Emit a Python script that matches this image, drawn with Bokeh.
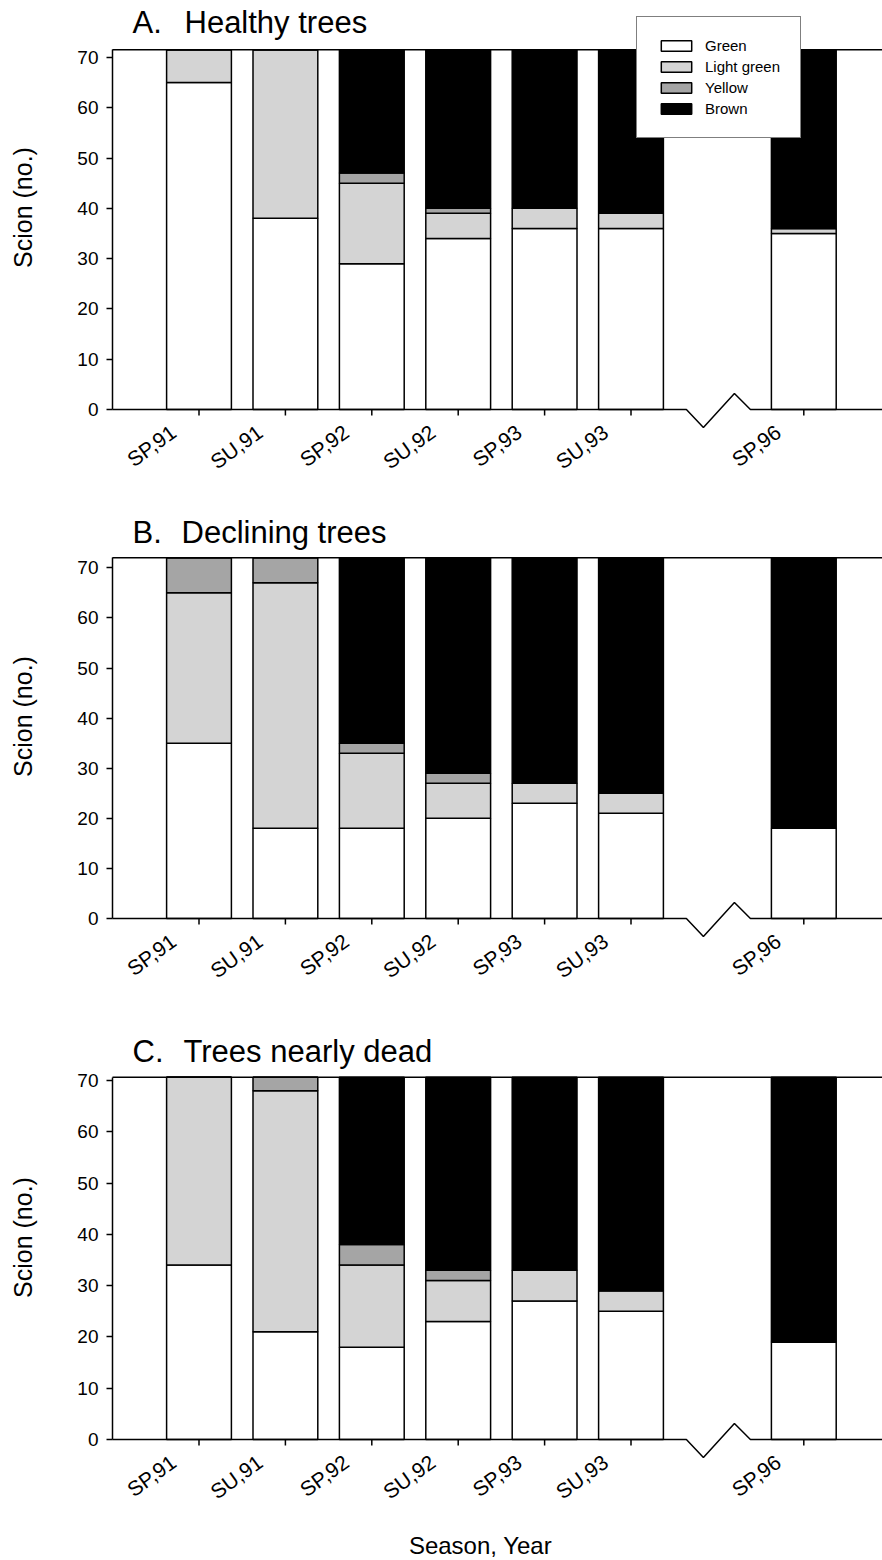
import math
from bokeh.plotting import figure
from bokeh.layouts import column
from bokeh.models import FixedTicker, Legend, LegendItem, ColumnDataSource
from bokeh.embed import file_html
from bokeh.resources import INLINE
from bokeh.core.properties import value

# ---------------- data ----------------
seasons = ["SP,91", "SU,91", "SP,92", "SU,92", "SP,93", "SU,93", "SP,96"]
# position on the time axis (the empty slot 6 is the axis break 1994-95)
slots = [0, 1, 2, 3, 4, 5, 7]
break_slot = 6
layers = ["Green", "Light green", "Yellow", "Brown"]
layer_colors = ["#ffffff", "#d4d4d4", "#a5a5a5", "#000000"]
y_ticks = [0, 10, 20, 30, 40, 50, 60, 70]

panel_letters = ["A.", "B.", "C."]
panel_names = ["Healthy trees", "Declining trees", "Trees nearly dead"]
x_title = "Season, Year"
y_title = "Scion (no.)"

# A. Healthy trees
a_green = [65, 38, 29, 34, 36, 36, 35]
a_light = [6.5, 33.5, 16, 5, 4, 3, 1]
a_yellow = [0, 0, 2, 1, 0, 0, 0]
a_brown = [0, 0, 24.5, 31.5, 31.5, 32.5, 35.5]
a_total = 71.5

# B. Declining trees
b_green = [35, 18, 18, 20, 23, 21, 18]
b_light = [30, 49, 15, 7, 4, 4, 0]
b_yellow = [7, 5, 2, 2, 0, 0, 0]
b_brown = [0, 0, 37, 43, 45, 47, 54]
b_total = 72

# C. Trees nearly dead
c_green = [34, 21, 18, 23, 27, 25, 19]
c_light = [36.6, 47, 16, 8, 6, 4, 0]
c_yellow = [0, 2.6, 4, 2, 0, 0, 0]
c_brown = [0, 0, 32.6, 37.6, 37.6, 41.6, 51.6]
c_total = 70.6

# ---------------- layout (pixels) ----------------
FONT = "Liberation Sans"
W = 882
PX_X = 86.4                # pixels per slot
SLOT0 = 198.5              # screen x of slot 0


def px_to_x(px):
    return (px - SLOT0) / PX_X


X_START = px_to_x(0)
X_END = px_to_x(W)
X_AXIS = px_to_x(112)      # where the y axis stands
LW = 1.5


def make_panel(letter, name, green, light, yellow, brown, total, top, height, zero, ppu,
               title_base, name_px, ylab_center, legend=False, xlabel=False):
    def py(px):            # screen y -> data y
        return (zero - px) / ppu

    p = figure(width=W, height=height, x_range=(X_START, X_END),
               y_range=(py(top + height), py(top)),
               output_backend="svg", toolbar_location=None, x_axis_location=None,
               min_border_left=0, min_border_right=0, min_border_top=0, min_border_bottom=0)
    p.outline_line_color = None
    p.grid.visible = False
    p.background_fill_color = "white"
    p.border_fill_color = "white"

    src = ColumnDataSource(dict(x=slots, green=green, light=light, yellow=yellow, brown=brown))
    rs = p.vbar_stack(["green", "light", "yellow", "brown"], x="x", width=0.75, source=src,
                      fill_color=layer_colors, line_color="black", line_width=LW)

    # top frame line
    p.segment(x0=[X_AXIS], y0=[total], x1=[X_END], y1=[total], line_color="black",
              line_width=LW)

    # x axis line with break
    bx = [X_AXIS, break_slot - 0.359, break_slot - 0.162, break_slot + 0.197,
          break_slot + 0.382, X_END]
    by = [0, 0, -18 / ppu, 16 / ppu, 0, 0]
    p.line(bx, by, line_color="black", line_width=LW)
    # x ticks
    p.segment(x0=slots, y0=[0] * len(slots), x1=slots, y1=[-6 / ppu] * len(slots),
              line_color="black", line_width=LW)
    # x tick labels
    p.text(x=[s - 25.5 / PX_X for s in slots], y=[-20 / ppu] * len(slots), text=seasons,
           angle=0.63, text_align="right", text_baseline="middle",
           text_font=value(FONT), text_font_size="21px", text_color="black")

    # panel title (baseline -> middle of the line box)
    ty = py(title_base - 0.35 * 31)
    p.text(x=[px_to_x(132)], y=[ty], text=[letter],
           text_align="left", text_baseline="middle",
           text_font=value(FONT), text_font_size="31px", text_color="black")
    p.text(x=[px_to_x(name_px)], y=[ty], text=[name],
           text_align="left", text_baseline="middle",
           text_font=value(FONT), text_font_size="31px", text_color="black")

    # y axis, pinned at the left edge of the plotting area
    ax = p.yaxis[0]
    ax.fixed_location = X_AXIS
    ax.ticker = FixedTicker(ticks=y_ticks)
    ax.bounds = (0, total)
    ax.axis_line_width = LW
    ax.axis_line_color = "black"
    ax.major_tick_line_width = LW
    ax.major_tick_line_color = "black"
    ax.major_tick_out = 6
    ax.major_tick_in = 0
    ax.minor_tick_line_color = None
    ax.major_label_text_font = FONT
    ax.major_label_text_font_size = "19px"
    ax.major_label_text_color = "black"
    ax.major_label_standoff = 8

    # y axis title
    p.text(x=[px_to_x(22)], y=[py(ylab_center)], text=[y_title], angle=math.pi / 2,
           text_align="center", text_baseline="middle",
           text_font=value(FONT), text_font_size="25px", text_color="black")

    if legend:
        items = [LegendItem(label=layers[k], renderers=[rs[k]]) for k in range(4)]
        lg = Legend(items=items, location=(636, top + height - 138),
                    border_line_color="black", border_line_width=1,
                    background_fill_color="white", background_fill_alpha=1,
                    label_text_font=FONT, label_text_font_size="15px",
                    label_text_color="black",
                    glyph_width=38, glyph_height=13, label_height=13, spacing=4,
                    padding=20, margin=0, label_standoff=10)
        p.add_layout(lg)

    if xlabel:
        p.text(x=[px_to_x(480)], y=[py(1553 - 0.35 * 24)], text=[x_title],
               text_align="center", text_baseline="middle",
               text_font=value(FONT), text_font_size="24px", text_color="black")
    return p


pa = make_panel(panel_letters[0], panel_names[0], a_green, a_light, a_yellow, a_brown, a_total,
                top=0, height=505, zero=409, ppu=5.03, title_base=33, name_px=184,
                ylab_center=207, legend=True)
pb = make_panel(panel_letters[1], panel_names[1], b_green, b_light, b_yellow, b_brown, b_total,
                top=505, height=510, zero=918, ppu=5.01, title_base=543, name_px=181,
                ylab_center=716)
pc = make_panel(panel_letters[2], panel_names[2], c_green, c_light, c_yellow, c_brown, c_total,
                top=1015, height=545, zero=1439, ppu=5.13, title_base=1062, name_px=183,
                ylab_center=1237, xlabel=True)

layout = column(pa, pb, pc, spacing=0)
open("out.html", "w").write(file_html(layout, INLINE))
